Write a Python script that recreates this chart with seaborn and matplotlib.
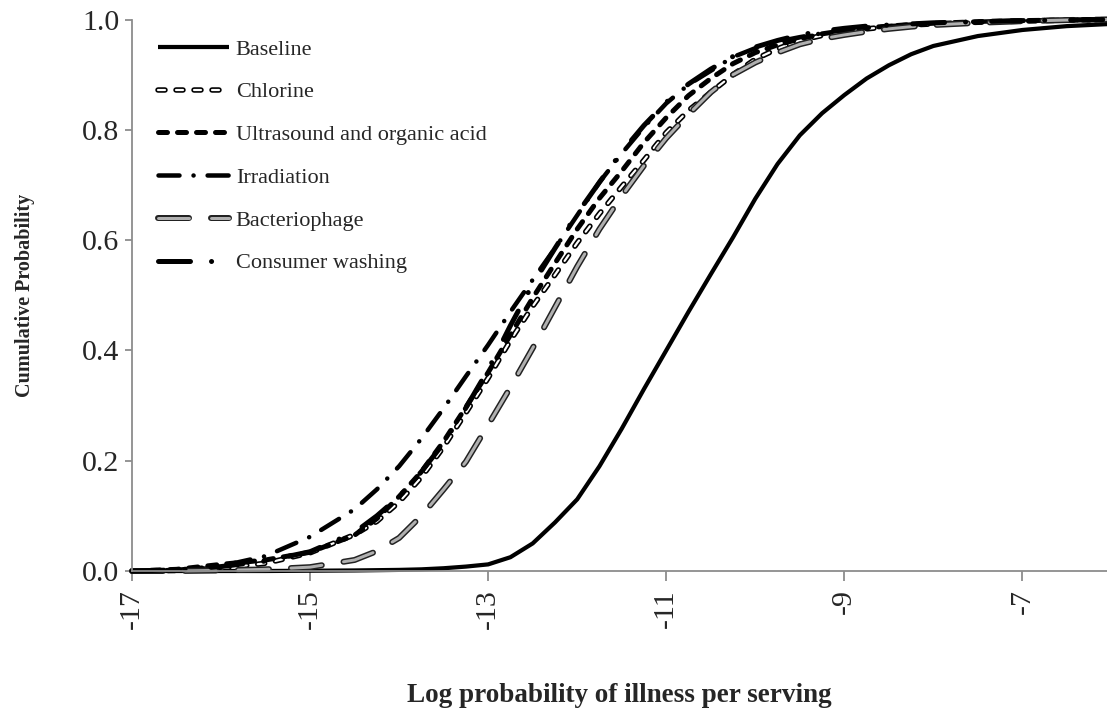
import matplotlib

matplotlib.use("Agg")
import matplotlib.patheffects as pe
import matplotlib.pyplot as plt
import pandas as pd
import seaborn as sns

# log probability of illness per serving (x) and cumulative probability per scenario
log_prob = [-17.0, -16.5, -16.0, -15.5, -15.0, -14.5, -14.25, -14.0, -13.75, -13.5, -13.25,
            -13.0, -12.75, -12.5, -12.25, -12.0, -11.75, -11.5, -11.25, -11.0, -10.75, -10.5,
            -10.25, -10.0, -9.75, -9.5, -9.25, -9.0, -8.75, -8.5, -8.25, -8.0, -7.5, -7.0,
            -6.5, -6.0]

baseline = [0.0, 0.0, 0.0, 0.0, 0.0005, 0.001, 0.0015, 0.002, 0.003, 0.005, 0.008,
            0.012, 0.025, 0.05, 0.088, 0.13, 0.19, 0.258, 0.33, 0.40, 0.47, 0.538,
            0.605, 0.675, 0.738, 0.79, 0.83, 0.863, 0.893, 0.917, 0.937, 0.952, 0.970, 0.981,
            0.988, 0.992]
chlorine = [0.0, 0.001, 0.005, 0.014, 0.033, 0.066, 0.09, 0.125, 0.17, 0.225, 0.287,
            0.35, 0.418, 0.48, 0.537, 0.595, 0.648, 0.697, 0.745, 0.795, 0.835, 0.868,
            0.90, 0.928, 0.947, 0.962, 0.971, 0.978, 0.983, 0.987, 0.99, 0.992, 0.995, 0.997,
            0.999, 1.0]
ultrasound = [0.0, 0.003, 0.012, 0.02, 0.034, 0.065, 0.095, 0.135, 0.18, 0.235, 0.297,
              0.36, 0.428, 0.495, 0.558, 0.62, 0.676, 0.725, 0.777, 0.822, 0.862, 0.893,
              0.92, 0.94, 0.954, 0.965, 0.974, 0.98, 0.985, 0.988, 0.991, 0.993, 0.996, 0.998,
              0.999, 1.0]
irradiation = [0.0, 0.002, 0.009, 0.027, 0.062, 0.112, 0.148, 0.19, 0.24, 0.295, 0.353,
               0.41, 0.47, 0.528, 0.585, 0.645, 0.705, 0.757, 0.805, 0.848, 0.882, 0.907,
               0.932, 0.948, 0.96, 0.968, 0.975, 0.981, 0.984, 0.988, 0.99, 0.993, 0.996, 0.998,
               0.999, 1.0]
bacteriophage = [0.0, 0.0, 0.001, 0.003, 0.007, 0.02, 0.036, 0.06, 0.10, 0.148, 0.198,
                 0.265, 0.333, 0.404, 0.478, 0.552, 0.62, 0.68, 0.735, 0.785, 0.828, 0.868,
                 0.90, 0.922, 0.94, 0.955, 0.965, 0.972, 0.978, 0.983, 0.987, 0.99, 0.994, 0.997,
                 0.999, 1.0]
consumer = [0.0, 0.002, 0.008, 0.018, 0.035, 0.07, 0.10, 0.135, 0.18, 0.232, 0.296,
            0.365, 0.445, 0.52, 0.585, 0.648, 0.705, 0.76, 0.808, 0.85, 0.883, 0.91,
            0.933, 0.95, 0.962, 0.972, 0.979, 0.984, 0.988, 0.99, 0.992, 0.994, 0.996, 0.998,
            0.999, 1.0]

labels = ["Baseline", "Chlorine", "Ultrasound and organic acid", "Irradiation",
          "Bacteriophage", "Consumer washing"]
series = [baseline, chlorine, ultrasound, irradiation, bacteriophage, consumer]

x_ticks = [-17, -15, -13, -11, -9, -7]
y_ticks = [0.0, 0.2, 0.4, 0.6, 0.8, 1.0]

PX = 0.72  # points per pixel at dpi 100


def px(*vals):
    return tuple(v * PX for v in vals)


# (color, linewidth px, dash pattern px or None, outline color, outline width px)
styles = [
    ("black", 4.2, None, None, None),
    ("white", 2.2, (7, 11), "black", 5.5),
    ("black", 5.0, (9, 10), None, None),
    ("black", 4.5, (21, 14, 0.1, 14), None, None),
    ("#b0b0b0", 3.0, (31, 22), "#222222", 6.0),
    ("black", 5.0, (32, 21, 0.1, 26), None, None),
]

sns.set_style("white")
plt.rcParams["font.family"] = ["Liberation Serif", "DejaVu Serif"]
plt.rcParams["axes.unicode_minus"] = False
plt.rcParams["lines.scale_dashes"] = False

fig = plt.figure(figsize=(11.07, 7.11), dpi=100)
ax = fig.add_axes([132 / 1107, 1 - 571 / 711, 975 / 1107, 551.5 / 711])

for label, values, (color, lw, dashes, edge, edge_lw) in zip(labels, series, styles):
    assert len(values) == len(log_prob)
    frame = pd.DataFrame({"x": log_prob, "y": values})
    kws = dict(color=color, linewidth=lw * PX, label=label, clip_on=False,
               solid_capstyle="butt", dash_capstyle="round", solid_joinstyle="round")
    if dashes is not None:
        kws["linestyle"] = (0, px(*dashes))
    if edge is not None:
        kws["path_effects"] = [pe.Stroke(linewidth=edge_lw * PX, foreground=edge), pe.Normal()]
    sns.lineplot(data=frame, x="x", y="y", ax=ax, errorbar=None, **kws)

ax.set_xlim(-17, -6.05)
ax.set_ylim(0, 1)
ax.set_xticks(x_ticks)
ax.set_xticklabels([str(t) for t in x_ticks], rotation=90)
ax.set_yticks(y_ticks)
ax.set_yticklabels([f"{t:.1f}" for t in y_ticks])

for side in ("top", "right"):
    ax.spines[side].set_visible(False)
for side in ("left", "bottom"):
    ax.spines[side].set_color("#8c8c8c")
    ax.spines[side].set_linewidth(1.8 * PX)

ax.tick_params(axis="x", direction="out", length=7, width=1.3, color="#8c8c8c",
               labelsize=21.5, pad=6, bottom=True)
ax.tick_params(axis="y", direction="out", length=5, width=1.3, color="#8c8c8c",
               labelsize=21.5, pad=4, left=True)

ax.set_xlabel("Log probability of illness per serving", fontsize=19.5, fontweight="bold")
ax.xaxis.set_label_coords(0.5, (571 - 702) / 551.5)
ax.xaxis.label.set_va("baseline")
ax.set_ylabel("Cumulative Probability", fontsize=14.5, fontweight="bold")
ax.yaxis.set_label_coords((25 - 132) / 975, 0.5)
ax.yaxis.label.set_va("center")

ax.legend(loc="upper left", bbox_to_anchor=(158 / 1107, 1 - 39 / 711),
          bbox_transform=fig.transFigure, frameon=False, fontsize=16,
          handlelength=3.2, handletextpad=0.3, labelspacing=1.0,
          borderpad=0, borderaxespad=0)

fig.savefig("out.png", dpi=100)
